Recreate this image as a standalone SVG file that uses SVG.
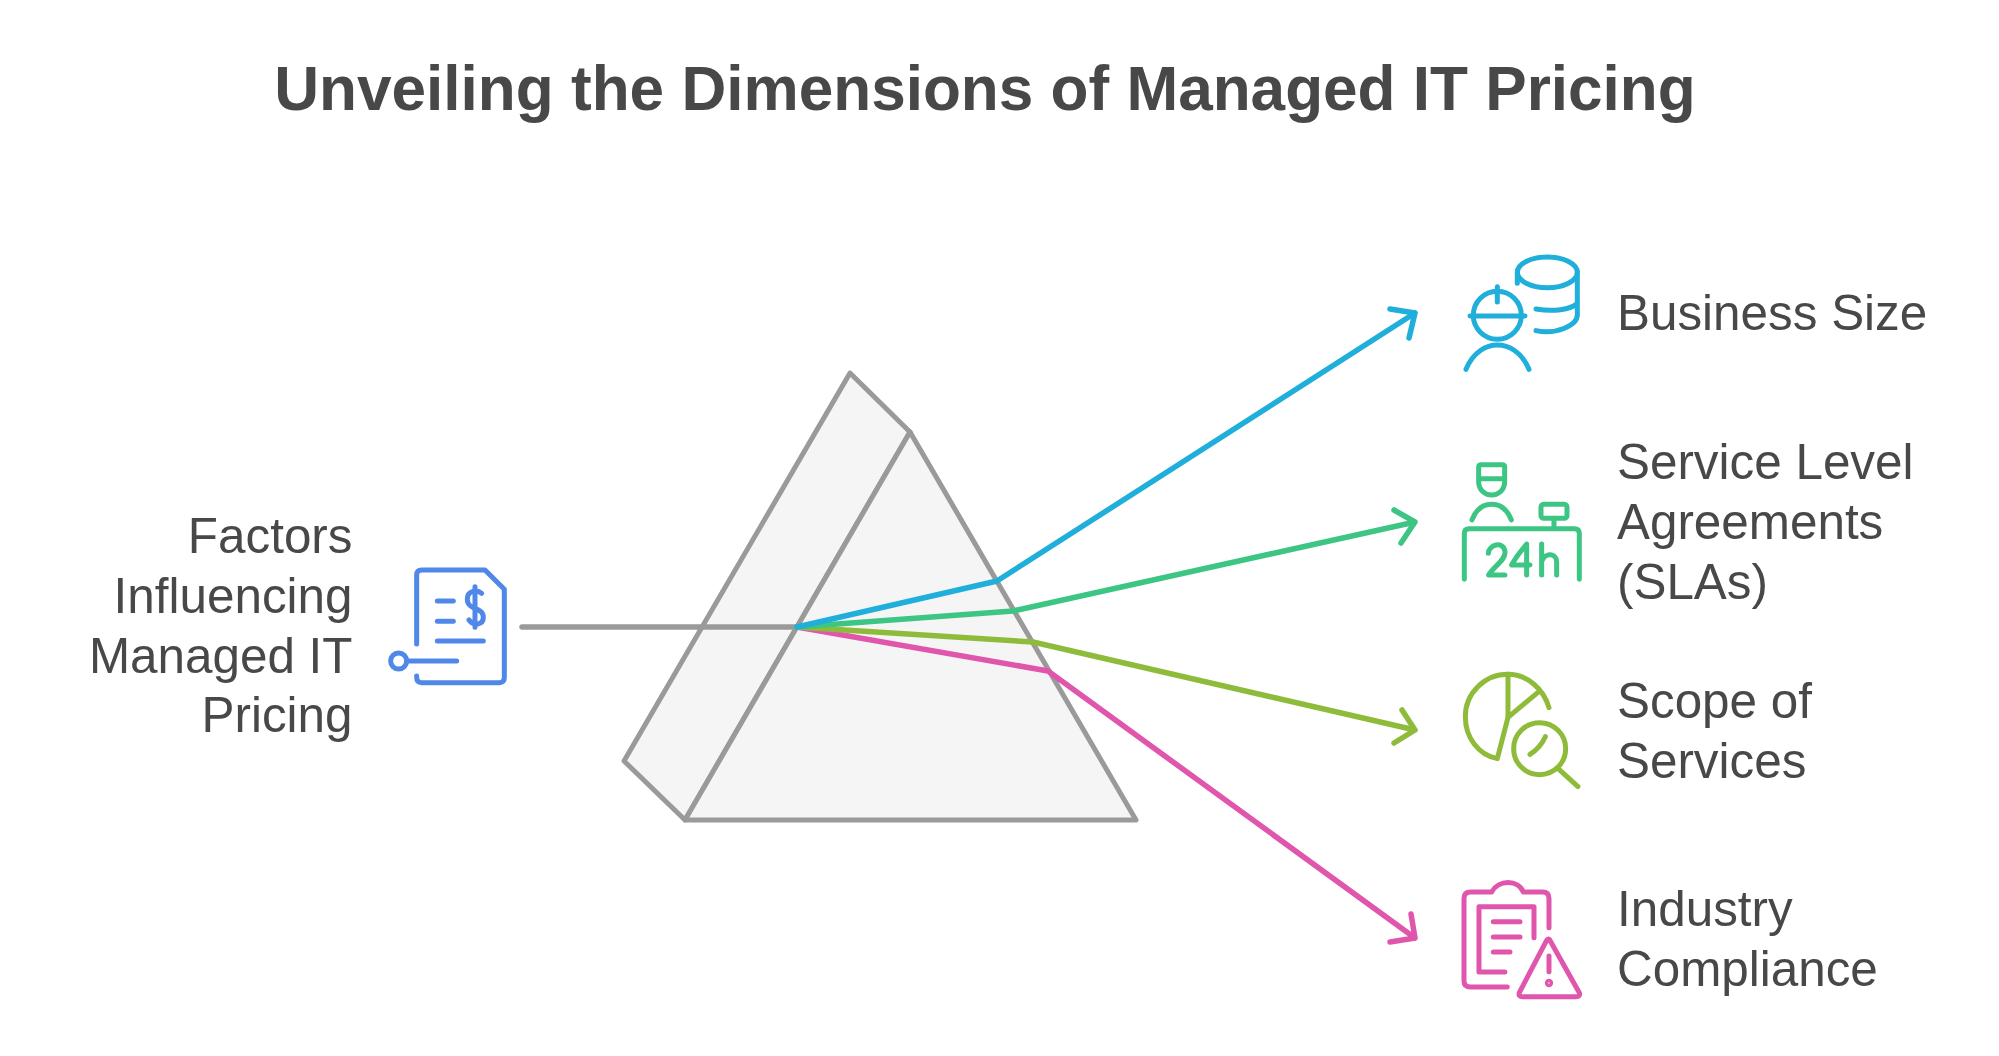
<svg xmlns="http://www.w3.org/2000/svg" width="1999" height="1056" viewBox="0 0 1999 1056">
<style>
text{font-family:"Liberation Sans",Arial,sans-serif;fill:#484848}
.t{font-size:49.4px}
.h{font-size:62.1px;font-weight:700}
.r{text-anchor:end}
.c{fill:none;stroke-width:5.5;stroke-linecap:round;stroke-linejoin:round}
.i{fill:none;stroke-width:15;stroke-linecap:round;stroke-linejoin:round}
.p{fill:#f5f5f5;stroke:#9a9a9a;stroke-width:5;stroke-linejoin:round}
</style>
<rect width="1999" height="1056" fill="#fff"/>
<g id="title"><text class="h" x="985" y="110" text-anchor="middle">Unveiling the Dimensions of Managed IT Pricing</text></g>
<g id="prism">
<path class="p" d="M850 373L910 432L685 820L624 761Z"/>
<path class="p" d="M910 432L1136 820H685Z"/>
</g>
<g id="connectors">
<path class="c" stroke="#9a9a9a" d="M522 627H797"/>
<path class="c" stroke="#e056ad" d="M797 627L1048 671L1415 938M1411 914L1415 938L1390 942"/>
<path class="c" stroke="#8fbb3a" d="M797 627L1033 642L1415 730M1394 743L1415 730L1402 710"/>
<path class="c" stroke="#3cc583" d="M797 627L1013 611L1415 522M1394 510L1415 522L1401 543"/>
<path class="c" stroke="#20aedb" d="M797 627L997 581L1415 313M1390 309L1415 313L1409 338"/>
</g>
<g id="source">
<text class="t r" x="352.500" y="553">Factors</text>
<text class="t r" x="352.500" y="613">Influencing</text>
<text class="t r" x="352.500" y="673">Managed IT</text>
<text class="t r" x="352.500" y="732">Pricing</text>
<g transform="translate(370 540) scale(.3333)" class="i" stroke="#4f88e8">
<path d="M140 312V105Q140 90 155 90H345L403 148V412Q403 428 388 428H155Q140 428 140 412V408"/>
<path d="M202 183H250M202 244H250M202 303H340M113 363H260"/>
<circle cx="86" cy="363" r="24"/>
<path d="M335 160C322 148 292 150 292 178C292 212 340 200 340 232C340 256 310 258 297 240M315 140V262"/>
</g>
</g>
<g id="business-size">
<g transform="translate(1390 240) scale(.3333)" class="i" stroke="#20aedb">
<ellipse cx="472" cy="97" rx="90" ry="46"/>
<path d="M382 97V130M562 97V225C562 255 500 285 438 272M562 190C540 210 490 215 438 207"/>
<circle cx="322" cy="226" r="72"/>
<path d="M240 228H405M322 140V186M228 388C250 335 290 315 322 315C355 315 395 335 417 388"/>
</g>
<text class="t" x="1617" y="330">Business Size</text>
</g>
<g id="sla">
<g transform="translate(1390 450) scale(.3333)" class="i" stroke="#3cc583">
<path d="M266 80V50Q266 44 274 44H336Q344 44 344 50V95C344 120 325 135 305 135C285 135 266 120 266 95ZM266 86H344"/>
<path d="M246 210C258 178 280 163 305 163C330 163 352 178 364 210"/>
<rect x="453" y="163" width="78" height="42" rx="8"/>
<path d="M492 205V236M223 388V250Q223 236 238 236H553Q568 236 568 250V388"/>
<path d="M295 310C295 285 340 270 345 305C348 330 310 350 296 375H345"/>
<path d="M410 375V282C395 300 375 325 365 345H420"/>
<path d="M455 282V375M455 335C465 305 500 310 500 335V375"/>
</g>
<text class="t" x="1617" y="479">Service Level</text>
<text class="t" x="1617" y="539">Agreements</text>
<text class="t" x="1617" y="599">(SLAs)</text>
</g>
<g id="scope">
<g transform="translate(1390 660) scale(.3333)" class="i" stroke="#8fbb3a">
<path d="M354 172L322 296C265 285 226 232 226 170C226 100 283 43 354 43C410 43 460 85 477 143"/>
<path d="M354 43V172L443 98"/>
<circle cx="449" cy="266" r="78"/>
<path d="M420 283C440 270 455 255 466 230M507 328L564 380"/>
</g>
<text class="t" x="1617" y="718">Scope of</text>
<text class="t" x="1617" y="778">Services</text>
</g>
<g id="compliance">
<g transform="translate(1390 870) scale(.3333)" class="i" stroke="#e056ad">
<path d="M477 173V85Q477 66 458 66H400C385 28 325 28 305 66H242Q222 66 222 85V332Q222 351 242 351H352"/>
<path d="M432 203V110H267V306H345"/>
<path d="M310 155H390M310 201H390M310 246H360"/>
<path d="M478 208L568 368Q572 380 558 380H398Q384 380 388 368L468 215Q473 205 478 208Z"/>
<path d="M477 258V305"/>
<circle cx="477" cy="339" r="5"/>
</g>
<text class="t" x="1617" y="926">Industry</text>
<text class="t" x="1617" y="986">Compliance</text>
</g>
</svg>
